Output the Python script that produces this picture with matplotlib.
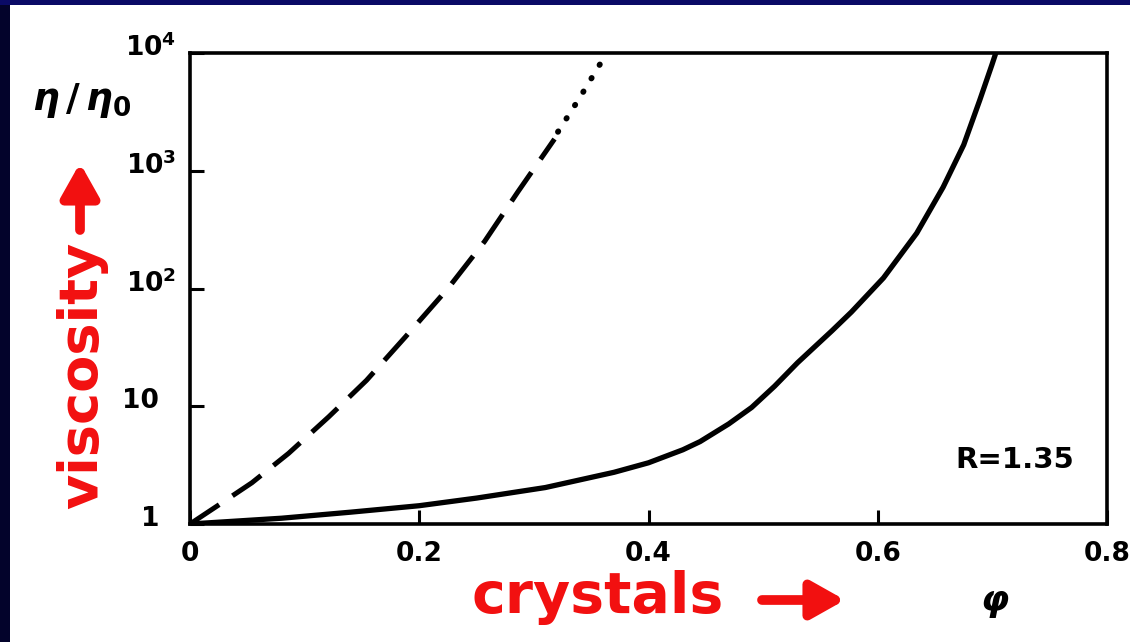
import matplotlib
matplotlib.use("Agg")
from matplotlib import pyplot as plt
from matplotlib.patches import Rectangle
from matplotlib.ticker import NullLocator
import matplotlib.transforms as mtransforms

plt.rcParams["font.family"] = ["DejaVu Sans"]
plt.rcParams["mathtext.fontset"] = "custom"
plt.rcParams["mathtext.rm"] = "DejaVu Sans:bold"
plt.rcParams["mathtext.bf"] = "DejaVu Sans:bold"
plt.rcParams["mathtext.it"] = "DejaVu Sans:italic:bold"

W, H = 1130, 642

# relative viscosity (R = 1.35)
phi_solid = [0, 0.08, 0.14, 0.20, 0.25, 0.31, 0.37, 0.40, 0.43, 0.445, 0.47,
             0.49, 0.51, 0.53, 0.56, 0.577, 0.605, 0.634, 0.657, 0.675, 0.689,
             0.6996, 0.703]
eta_solid = [1.0, 1.12, 1.26, 1.43, 1.66, 2.04, 2.75, 3.31, 4.27, 5.01, 7.08,
             9.77, 14.8, 23.4, 43.7, 63.1, 123, 295, 724, 1660, 3980,
             7940, 10000]

phi_dashed = [0, 0.025, 0.054, 0.086, 0.121, 0.154, 0.188, 0.225, 0.257,
              0.286, 0.318]
eta_dashed = [1.0, 1.45, 2.24, 3.98, 8.13, 16.6, 38.9, 100, 251, 661, 1860]

phi_dotted = [0.321, 0.340, 0.358, 0.3615]
eta_dotted = [2140, 4170, 8130, 10000]

x_ticks = [0, 0.2, 0.4, 0.6, 0.8]
x_tick_labels = ["0", "0.2", "0.4", "0.6", "0.8"]
y_ticks = [1, 10, 100, 1000, 10000]
y_tick_labels = ["1", "10", r"$10^{2}$", r"$10^{3}$", r"$10^{4}$"]

RED = "#f21010"


def fpos(x, y):
    # pixel position in the 1130x642 picture -> figure fraction
    return x / W, 1 - y / H


fig = plt.figure(figsize=(W / 100, H / 100), dpi=100, facecolor="#03032b")
fig.add_artist(Rectangle((0, 1 - 5 / H), 1, 5 / H, transform=fig.transFigure,
                         facecolor="#0a0a66", edgecolor="none", zorder=0))
fig.add_artist(Rectangle((10 / W, 0), 1, 1 - 5 / H, transform=fig.transFigure,
                         facecolor="white", edgecolor="none", zorder=0))

ax = fig.add_axes([190 / W, 1 - 524 / H, (1107 - 190) / W, (524 - 53) / H])
ax.set_facecolor("white")

ax.plot(phi_solid, eta_solid, color="black", lw=3.8, solid_capstyle="round",
        solid_joinstyle="round")
ax.plot(phi_dashed, eta_dashed, color="black", lw=3.6, dashes=(7, 3.2))
ax.plot(phi_dotted, eta_dotted, color="black", lw=4.2, dashes=(0.1, 2.6),
        dash_capstyle="round")

ax.set_yscale("log")
ax.set_xlim(0, 0.8)
ax.set_ylim(1, 1e4)
ax.set_xticks(x_ticks)
ax.set_xticklabels(x_tick_labels, fontweight="bold")
ax.set_yticks(y_ticks)
ax.set_yticklabels(y_tick_labels, fontweight="bold")
ax.yaxis.set_minor_locator(NullLocator())
ax.tick_params(direction="in", length=10, width=2.2, labelsize=19)
ax.tick_params(axis="x", pad=12)
ax.tick_params(axis="y", pad=10)
for sp in ax.spines.values():
    sp.set_linewidth(2.6)

# y labels sit a little above their ticks; plain numbers line up with the
# base of the powers of ten, not with the exponents
for lab in ax.yaxis.get_majorticklabels():
    dx = 0 if "^" in lab.get_text() else -17
    shift = mtransforms.ScaledTranslation(dx / 100, 8 / 100, fig.dpi_scale_trans)
    lab.set_transform(lab.get_transform() + shift)

fig.text(*fpos(82, 100), r"$\eta\,/\,\eta_0$", fontsize=27, ha="center", va="center")
fig.text(*fpos(995, 603), r"$\varphi$", fontsize=26, ha="center", va="center")
fig.text(*fpos(1015, 460), "R=1.35", fontsize=21, fontweight="bold",
         ha="center", va="center")

# red hand-written annotations
fig.text(*fpos(97, 375), "viscosity", color=RED, fontsize=39, fontweight="bold",
         rotation=90, rotation_mode="anchor", ha="center", va="baseline")
fig.text(*fpos(598, 613), "crystals", color=RED, fontsize=41, fontweight="bold",
         ha="center", va="baseline")
arrow = dict(arrowstyle="-|>,head_length=0.8,head_width=0.45", lw=7, color=RED,
             mutation_scale=25, shrinkA=0, shrinkB=0)
ax.annotate("", xy=fpos(80, 163), xytext=fpos(80, 230),
            xycoords="figure fraction", textcoords="figure fraction",
            arrowprops=arrow, annotation_clip=False)
ax.annotate("", xy=fpos(845, 600), xytext=fpos(762, 600),
            xycoords="figure fraction", textcoords="figure fraction",
            arrowprops=arrow, annotation_clip=False)

plt.savefig("out.png", dpi=100, facecolor=fig.get_facecolor())
